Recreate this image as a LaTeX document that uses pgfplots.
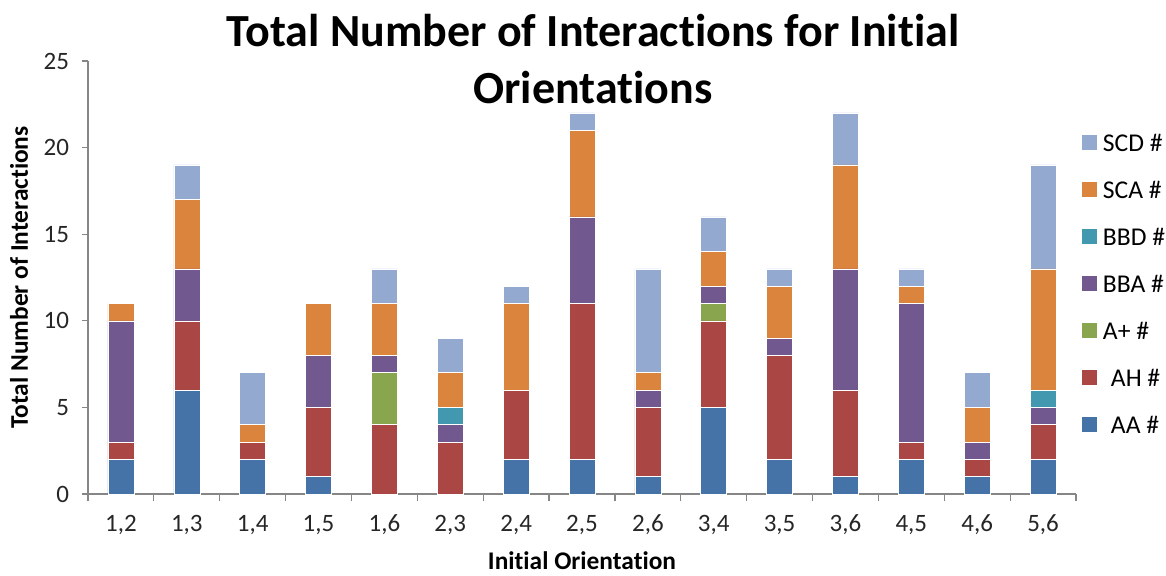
\documentclass[border=0pt]{standalone}
\usepackage{pgfplots}
\pgfplotsset{compat=1.18}
\usepackage{fontspec}
\setmainfont{Carlito}[Ligatures={NoCommon}]

\definecolor{cAA}{HTML}{4572A7}
\definecolor{cAH}{HTML}{AA4643}
\definecolor{cAp}{HTML}{89A54E}
\definecolor{cBBA}{HTML}{71588F}
\definecolor{cBBD}{HTML}{4198AF}
\definecolor{cSCA}{HTML}{DB843D}
\definecolor{cSCD}{HTML}{93A9CF}
\definecolor{axisgray}{HTML}{868686}

% interaction counts per initial orientation (0 = 1,2 ... 14 = 5,6)
\pgfplotstableread{
cat AA AH Ap BBA BBD SCA SCD
0   2  1  0  7   0   1   0
1   6  4  0  3   0   4   2
2   2  1  0  0   0   1   3
3   1  4  0  3   0   3   0
4   0  4  3  1   0   3   2
5   0  3  0  1   1   2   2
6   2  4  0  0   0   5   1
7   2  9  0  5   0   5   1
8   1  4  0  1   0   1   6
9   5  5  1  1   0   2   2
10  2  6  0  1   0   3   1
11  1  5  0  7   0   6   3
12  2  1  0  8   0   1   1
13  1  1  0  1   0   2   2
14  2  2  0  1   1   7   6
}\data

\pgfplotsset{
  sq/.style={fill=#1, draw=white, line width=0.3pt,
    legend image code/.code={\fill[#1] (0pt,-3.5pt) rectangle (7pt,3.5pt);}},
}

\begin{document}
\begin{tikzpicture}
\path[use as bounding box] (-44pt,-40.5pt) rectangle (539pt,247pt);
\begin{axis}[
  at={(0pt,0pt)}, anchor=south west,
  scale only axis, width=494pt, height=216.5pt,
  ybar stacked, bar width=13pt,
  xmin=-0.5, xmax=14.5, ymin=0, ymax=25,
  axis lines*=left,
  axis line style={axisgray, line width=0.6pt},
  xtick={0,...,14},
  xticklabels={{1,2},{1,3},{1,4},{1,5},{1,6},{2,3},{2,4},{2,5},{2,6},{3,4},{3,5},{3,6},{4,5},{4,6},{5,6}},
  major x tick style={draw=none},
  minor xtick={-0.5,0.5,...,14.5},
  minor x tick style={axisgray, line width=0.6pt},
  minor tick length=3.5pt,
  ytick={0,5,...,25},
  major y tick style={axisgray, line width=0.6pt},
  major tick length=3pt,
  tick align=outside,
  /pgf/number format/assume math mode=true,
  tick label style={font=\fontsize{12.5}{14}\selectfont, text=black!85},
  xticklabel style={yshift=-4pt},
  yticklabel style={xshift=-3pt},
  xlabel={Initial Orientation},
  ylabel={Total Number of Interactions},
  label style={font=\bfseries\fontsize{12.7}{14}\selectfont},
  xlabel style={at={(axis description cs:0.5,0)}, anchor=center, yshift=-33.5pt},
  ylabel style={at={(axis description cs:-0.0698,0.5)}, anchor=center},
  reverse legend,
  legend style={at={(axis description cs:1.006,0.834)}, anchor=north west,
    draw=none, fill=none, inner sep=0pt, row sep=14.5pt, column sep=3pt,
    font=\fontsize{12.8}{14}\selectfont,
    nodes={inner sep=0pt, text height=9pt, text depth=0pt}},
  legend cell align=left,
]
\addplot[sq=cAA]  table[x=cat, y=AA]  {\data};
\addplot[sq=cAH]  table[x=cat, y=AH]  {\data};
\addplot[sq=cAp]  table[x=cat, y=Ap]  {\data};
\addplot[sq=cBBA] table[x=cat, y=BBA] {\data};
\addplot[sq=cBBD] table[x=cat, y=BBD] {\data};
\addplot[sq=cSCA] table[x=cat, y=SCA] {\data};
\addplot[sq=cSCD] table[x=cat, y=SCD] {\data};
\legend{\hspace*{4pt}AA \#, \hspace*{4pt}AH \#, A+ \#, BBA \#, BBD \#, SCA \#, SCD \#}
\end{axis}
\node[anchor=base, font=\bfseries\fontsize{23}{27}\selectfont] at (252.5pt,224pt) {Total Number of Interactions for Initial};
\node[anchor=base, font=\bfseries\fontsize{23}{27}\selectfont] at (252.5pt,195.5pt) {Orientations};
\end{tikzpicture}
\end{document}
